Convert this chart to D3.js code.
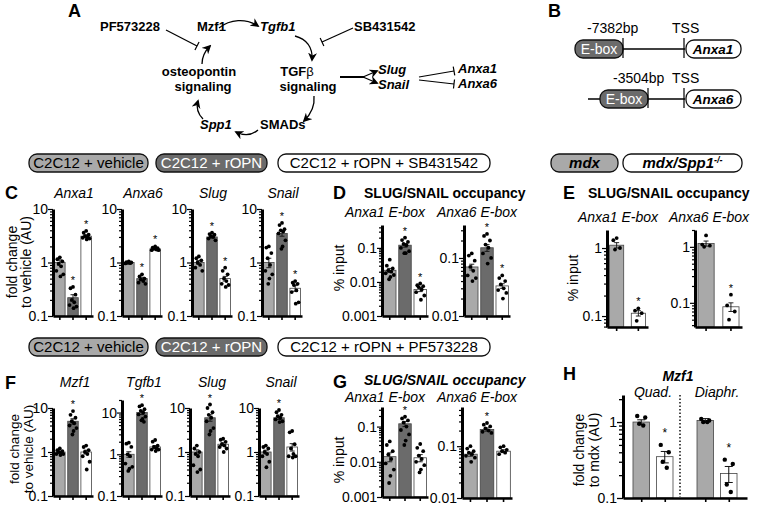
<!DOCTYPE html>
<html>
<head>
<meta charset="utf-8">
<script src="https://cdn.jsdelivr.net/npm/d3@7"></script>
<style>
body { margin: 0; background: #fff; }
svg { font-family: "Liberation Sans", Arial, sans-serif; }
</style>
</head>
<body>
<svg id="fig" width="760" height="512"></svg>
<script>
// ---------------- data ----------------
var conditionsC = ["C2C12 + vehicle", "C2C12 + rOPN", "C2C12 + rOPN + SB431542"];
var conditionsF = ["C2C12 + vehicle", "C2C12 + rOPN", "C2C12 + rOPN + PF573228"];
var genotypes = ["mdx", "mdx/Spp1"];
var genesC = ["Anxa1", "Anxa6", "Slug", "Snail"];
var genesF = ["Mzf1", "Tgfb1", "Slug", "Snail"];
var chipSites = ["Anxa1 E-box", "Anxa6 E-box"];
var musclesH = ["Quad.", "Diaphr."];

var ticksFold = [0.1, 1, 10];
var ticksD = [[0.001, 0.01, 0.1], [0.01, 0.1]];
var ticksE = [[0.1, 1], [0.1, 1]];
var ticksG = [[0.001, 0.01, 0.1], [0.01, 0.1]];
var ticksH = [0.1, 1];

// C: fold change, [vehicle, rOPN, rOPN+SB431542]
var meanC = [[1.0, 0.22, 3.1], [1.0, 0.5, 1.8], [1.0, 3.0, 0.5], [1.0, 3.5, 0.33]];
var semC = [[0.12, 0.03, 0.2], [0.02, 0.03, 0.05], [0.08, 0.15, 0.05], [0.2, 0.4, 0.04]];
var dotsC = [
  [[1.25, 1.15, 1.05, 0.95, 0.85, 0.7, 0.6, 0.55], [0.35, 0.33, 0.25, 0.2, 0.18, 0.16, 0.15, 0.14], [3.9, 3.6, 3.3, 3.1, 3.0, 2.9, 2.8, 2.7]],
  [[1.05, 1.02, 1.0, 0.98, 0.97, 0.96], [0.6, 0.55, 0.5, 0.48, 0.45, 0.42, 0.4], [2.0, 1.9, 1.85, 1.8, 1.75, 1.7, 1.7]],
  [[1.3, 1.2, 1.1, 1.0, 0.9, 0.8, 0.7], [3.6, 3.4, 3.3, 3.1, 3.0, 2.8, 2.6], [0.8, 0.7, 0.6, 0.5, 0.45, 0.4, 0.38, 0.35]],
  [[2.0, 1.9, 1.5, 1.2, 0.9, 0.7, 0.6, 0.5, 0.4], [5.5, 5.0, 4.2, 4.0, 3.8, 3.5, 2.6, 2.0, 1.8], [0.45, 0.42, 0.4, 0.38, 0.3, 0.28, 0.18, 0.17]]
];
var starsC = [[0, 1, 1], [0, 1, 1], [0, 1, 1], [0, 1, 1]];

// D: % input
var domainD = [[0.001, 0.47], [0.01, 0.37]];
var meanD = [[0.022, 0.12, 0.006], [0.07, 0.15, 0.033]];
var semD = [[0.003, 0.015, 0.0008], [0.008, 0.02, 0.003]];
var dotsD = [
  [[0.045, 0.03, 0.025, 0.022, 0.02, 0.018, 0.016, 0.014, 0.012], [0.2, 0.17, 0.15, 0.13, 0.12, 0.1, 0.08, 0.07, 0.07], [0.009, 0.008, 0.0075, 0.007, 0.006, 0.005, 0.004, 0.003]],
  [[0.12, 0.11, 0.09, 0.07, 0.06, 0.05, 0.045, 0.04], [0.26, 0.24, 0.2, 0.17, 0.15, 0.12, 0.1, 0.08], [0.05, 0.045, 0.04, 0.035, 0.03, 0.028, 0.025, 0.02]]
];
var starsD = [[0, 1, 1], [0, 1, 1]];

// E: % input, [mdx, mdx/Spp1-/-]
var domainE = [[0.069, 1.84], [0.037, 2.0]];
var meanE = [[1.1, 0.11], [1.15, 0.085]];
var semE = [[0.1, 0.01], [0.12, 0.015]];
var dotsE = [[[1.4, 1.3, 1.0, 0.95], [0.13, 0.12, 0.11, 0.085]], [[1.6, 1.1, 1.05, 1.0], [0.14, 0.09, 0.07, 0.05]]];
var starsE = [[0, 1], [0, 1]];

// F: fold change, [vehicle, rOPN, rOPN+PF573228]
var domainF = [[0.1, 10], [0.1, 20], [0.1, 10], [0.1, 10]];
var meanF = [[1.0, 5.0, 1.0], [1.0, 10.0, 1.5], [1.0, 6.0, 1.5], [1.0, 6.0, 1.3]];
var semF = [[0.04, 0.7, 0.1], [0.15, 1.0, 0.12], [0.12, 1.0, 0.12], [0.1, 0.5, 0.25]];
var dotsF = [
  [[1.2, 1.1, 1.05, 1.0, 0.95, 0.9, 0.9, 0.85], [8.5, 7.0, 6.0, 5.0, 4.5, 4.0, 3.5, 3.0, 2.5], [1.4, 1.3, 1.1, 1.0, 0.9, 0.8, 0.6, 0.4]],
  [[1.9, 1.8, 1.5, 1.0, 0.9, 0.6, 0.5, 0.45, 0.4], [15, 14, 12, 11, 10, 9, 8, 7, 6.5, 6], [2.2, 2.0, 1.6, 1.5, 1.4, 1.3, 1.3, 1.2]],
  [[1.4, 1.2, 1.0, 0.9, 0.8, 0.5, 0.4, 0.35], [12, 10, 8, 7, 6, 5, 3.5, 3, 2.5], [2.0, 1.9, 1.7, 1.5, 1.4, 1.3, 1.2, 1.0]],
  [[1.4, 1.3, 1.2, 1.0, 0.9, 0.8, 0.6, 0.45], [9, 8, 7, 6.5, 6, 5.5, 5, 4.8], [3.0, 2.8, 1.5, 1.2, 0.9, 0.8, 0.8, 0.75]]
];
var starsF = [[0, 1, 0], [0, 1, 0], [0, 1, 0], [0, 1, 0]];

// G: % input
var domainG = [[0.001, 0.36], [0.01, 0.57]];
var meanG = [[0.014, 0.12, 0.013], [0.07, 0.21, 0.08]];
var semG = [[0.004, 0.02, 0.003], [0.006, 0.015, 0.005]];
var dotsG = [
  [[0.038, 0.03, 0.02, 0.016, 0.012, 0.009, 0.006, 0.004, 0.0025], [0.19, 0.17, 0.15, 0.13, 0.1, 0.08, 0.06, 0.04, 0.03], [0.032, 0.025, 0.02, 0.015, 0.012, 0.01, 0.008, 0.006, 0.005]],
  [[0.1, 0.09, 0.08, 0.075, 0.07, 0.065, 0.06, 0.05], [0.28, 0.26, 0.24, 0.22, 0.2, 0.19, 0.18], [0.1, 0.095, 0.085, 0.08, 0.075, 0.07]]
];
var starsG = [[0, 1, 0], [0, 1, 0]];

// H: Mzf1 fold change to mdx, per muscle [mdx, mdx/Spp1-/-]
var meanH = [[1.0, 0.35], [1.05, 0.21]];
var semH = [[0.07, 0.06], [0.06, 0.05]];
var dotsH = [[[1.2, 1.15, 0.95, 0.9], [0.5, 0.4, 0.3, 0.25]], [[1.1, 1.05, 1.0, 1.0], [0.32, 0.28, 0.15, 0.12]]];
var starsH = [[0, 1], [0, 1]];

// ---------------- style ----------------
var LIGHT = "#a9a9a9", DARK = "#6b6b6b", WHITE = "#ffffff";
var fills3 = [LIGHT, DARK, WHITE];
var fills2 = [LIGHT, WHITE];
var JIT = [0, -2.6, 2.6, -1.3, 1.3, -3.6, 3.6, 0.6, -0.6, 2];

var svg = d3.select("#fig");

function label(x, y, txt, o) {
  o = o || {};
  return svg.append("text").attr("x", x).attr("y", y)
    .attr("text-anchor", o.anchor || "start")
    .style("font-size", (o.size || 13) + "px")
    .style("font-weight", o.bold ? "bold" : "normal")
    .style("font-style", o.italic ? "italic" : "normal")
    .attr("fill", o.fill || "#000")
    .text(txt);
}

function vlabel(x, y, txt, size) {
  svg.append("text").attr("transform", "translate(" + x + "," + y + ") rotate(-90)")
    .attr("text-anchor", "middle").style("font-size", (size || 14) + "px").text(txt);
}

function logTicks(dom) {
  var lo = Math.floor(Math.log10(dom[0])), hi = Math.ceil(Math.log10(dom[1]));
  var tv = [];
  for (var k = lo; k <= hi; k++) {
    for (var m = 1; m <= 9; m++) {
      var v = m * Math.pow(10, k);
      if (v >= dom[0] * 0.999 && v <= dom[1] * 1.001) tv.push(v);
    }
  }
  return tv;
}

function isMajor(v) { var l = Math.log10(v); return Math.abs(l - Math.round(l)) < 1e-6; }

// o: x (axis), w, top, bottom, domain, ticks, means, sems, dots, stars, fills, pin, pout
function barPlot(o) {
  var g = svg.append("g");
  var y = d3.scaleLog().domain(o.domain).range([o.bottom, o.top]);
  var x = d3.scaleBand().domain(d3.range(o.means.length))
    .range([o.x, o.x + o.w]).paddingInner(o.pin).paddingOuter(o.pout);

  var fmt = function (v) {
    var hit = o.ticks.find(function (t) { return Math.abs(t - v) / t < 1e-6; });
    return hit === undefined ? "" : String(hit);
  };

  // bars
  g.selectAll("rect.bar").data(o.means).join("rect")
    .attr("class", "bar")
    .attr("x", function (d, i) { return x(i); })
    .attr("width", x.bandwidth())
    .attr("y", function (d) { return y(d); })
    .attr("height", function (d) { return o.bottom - y(d); })
    .attr("fill", function (d, i) { return o.fills[i]; })
    .attr("stroke", "#444").attr("stroke-width", 0.8);

  // error bars
  o.means.forEach(function (m, i) {
    var cx = x(i) + x.bandwidth() / 2, s = o.sems[i];
    var y1 = y(m + s), y0 = y(Math.max(m - s, o.domain[0]));
    g.append("line").attr("x1", cx).attr("x2", cx).attr("y1", y1).attr("y2", y0)
      .attr("stroke", "#111").attr("stroke-width", 0.9);
    [y1, y0].forEach(function (yy) {
      g.append("line").attr("x1", cx - 2.5).attr("x2", cx + 2.5).attr("y1", yy).attr("y2", yy)
        .attr("stroke", "#111").attr("stroke-width", 0.9);
    });
  });

  // dots
  var pts = [];
  o.dots.forEach(function (arr, i) {
    arr.forEach(function (v, j) { pts.push({ i: i, j: j, v: v }); });
  });
  g.selectAll("circle").data(pts).join("circle")
    .attr("cx", function (d) { return x(d.i) + x.bandwidth() / 2 + JIT[d.j % JIT.length] * (x.bandwidth() / 11); })
    .attr("cy", function (d) { return y(d.v); })
    .attr("r", 1.9).attr("fill", "#000");

  // stars
  o.stars.forEach(function (s, i) {
    if (!s) return;
    var top = Math.max(d3.max(o.dots[i]), o.means[i] + o.sems[i]);
    g.append("text").attr("x", x(i) + x.bandwidth() / 2).attr("y", y(top) - 3)
      .attr("text-anchor", "middle").style("font-size", "11px").text("*");
  });

  // y axis
  var ay = g.append("g").attr("transform", "translate(" + o.x + ",0)")
    .call(d3.axisLeft(y).tickValues(logTicks(o.domain)).tickFormat(fmt).tickSizeOuter(0));
  ay.select(".domain").attr("stroke-width", 3);
  ay.selectAll(".tick line").attr("x2", function (d) { return isMajor(d) ? -5 : -3; }).attr("stroke-width", 1.2);
  ay.selectAll(".tick text").attr("x", -5).style("font-size", "14px")
    .style("font-family", "'Liberation Sans', Arial, sans-serif");

  // x axis
  var ax = g.append("g").attr("transform", "translate(0," + o.bottom + ")")
    .call(d3.axisBottom(x).tickFormat("").tickSize(4).tickSizeOuter(0));
  ax.select(".domain").attr("stroke-width", 2.6);
  ax.selectAll(".tick line").attr("stroke-width", 1.6);
  return { x: x, y: y };
}

function pill(x, y, w, txt, fill, o) {
  o = o || {};
  svg.append("rect").attr("x", x).attr("y", y).attr("width", w).attr("height", 18)
    .attr("rx", 8).attr("fill", fill).attr("stroke", "#111").attr("stroke-width", 1.3);
  var t = svg.append("text").attr("x", x + w / 2).attr("y", y + 14).attr("text-anchor", "middle")
    .style("font-size", "15px").attr("fill", o.color || "#000")
    .style("font-weight", o.bold ? "bold" : "normal").style("font-style", o.italic ? "italic" : "normal");
  t.append("tspan").text(txt);
  if (o.sup) t.append("tspan").attr("dy", -5).style("font-size", "9px").text(o.sup);
}

// ---------------- panel A : pathway ----------------
var defs = svg.append("defs");
defs.append("marker").attr("id", "arr").attr("viewBox", "0 0 10 10").attr("refX", 8).attr("refY", 5)
  .attr("markerWidth", 9).attr("markerHeight", 9).attr("markerUnits", "userSpaceOnUse").attr("orient", "auto")
  .append("path").attr("d", "M0,0 L10,5 L0,10 L3,5 z").attr("fill", "#000");

label(68, 17, "A", { size: 18, bold: true });
label(100, 31, "PF573228", { bold: true });
label(197, 31, "Mzf1", { bold: true });
label(260, 31, "Tgfb1", { bold: true, italic: true });
label(354, 31, "SB431542", { bold: true });
label(199, 76, "osteopontin", { bold: true, anchor: "middle" });
label(203, 91, "signaling", { bold: true, anchor: "middle" });
var tgfb = label(297, 76, "TGF", { bold: true, anchor: "middle" });
tgfb.append("tspan").style("font-weight", "normal").text("β");
label(308, 91, "signaling", { bold: true, anchor: "middle" });
label(200, 129, "Spp1", { bold: true, italic: true });
label(260, 129, "SMADs", { bold: true });
label(378, 74, "Slug", { bold: true, italic: true });
label(378, 89, "Snail", { bold: true, italic: true });
label(458, 73, "Anxa1", { bold: true, italic: true });
label(458, 88, "Anxa6", { bold: true, italic: true });

var arrows = [
  "M219,28 C230,19 246,18 258,26",
  "M295,36 C306,39 313,47 312,60",
  "M314,96 C315,106 311,114 304,121",
  "M258,130 C251,136 244,136 236,132",
  "M203,119 C198,114 196,108 198,101",
  "M202,64 C202,57 205,51 210,46"
];
arrows.forEach(function (d) {
  svg.append("path").attr("d", d).attr("fill", "none").attr("stroke", "#000")
    .attr("stroke-width", 1.3).attr("marker-end", "url(#arr)");
});

function inhibit(x1, y1, x2, y2) {
  svg.append("line").attr("x1", x1).attr("y1", y1).attr("x2", x2).attr("y2", y2)
    .attr("stroke", "#000").attr("stroke-width", 1.2);
  var a = Math.atan2(y2 - y1, x2 - x1), L = 4.5;
  svg.append("line").attr("x1", x2 - L * Math.sin(a)).attr("y1", y2 + L * Math.cos(a))
    .attr("x2", x2 + L * Math.sin(a)).attr("y2", y2 - L * Math.cos(a))
    .attr("stroke", "#000").attr("stroke-width", 1.2);
}
inhibit(166, 30, 197, 46);
inhibit(353, 28, 322, 42);
inhibit(419, 77, 454, 71);
inhibit(419, 80, 454, 84);

svg.append("line").attr("x1", 340).attr("y1", 77).attr("x2", 364).attr("y2", 77)
  .attr("stroke", "#000").attr("stroke-width", 2);
[[377, 71], [377, 83]].forEach(function (p) {
  svg.append("path").attr("d", "M363,77 L" + p[0] + "," + p[1]).attr("stroke", "#000")
    .attr("stroke-width", 1.3).attr("fill", "none").attr("marker-end", "url(#arr)");
});

// ---------------- panel B : promoters ----------------
label(548, 17, "B", { size: 18, bold: true });
function promoter(yc, lineX0, boxX, boxW, tick1, pos, posX, gene) {
  svg.append("line").attr("x1", lineX0).attr("x2", 685).attr("y1", yc).attr("y2", yc)
    .attr("stroke", "#000").attr("stroke-width", 1.3);
  svg.append("rect").attr("x", boxX).attr("y", yc - 9).attr("width", boxW).attr("height", 18)
    .attr("rx", 8).attr("fill", "#6b6b6b").attr("stroke", "#111").attr("stroke-width", 1.3);
  label(boxX + boxW / 2, yc + 5, "E-box", { size: 14, anchor: "middle", fill: "#fff" });
  [tick1, 684].forEach(function (tx) {
    svg.append("line").attr("x1", tx).attr("x2", tx).attr("y1", yc - 11).attr("y2", yc + 9)
      .attr("stroke", "#000").attr("stroke-width", 1.2);
  });
  svg.append("rect").attr("x", 686).attr("y", yc - 9).attr("width", 55).attr("height", 18)
    .attr("rx", 8).attr("fill", "#fff").attr("stroke", "#111").attr("stroke-width", 1.3);
  label(713, yc + 5, gene, { size: 13.5, bold: true, italic: true, anchor: "middle" });
  label(posX, yc - 16, pos, { size: 14 });
  label(672, yc - 16, "TSS", { size: 14 });
}
promoter(49, 622, 575, 48, 623, "-7382bp", 587, "Anxa1");
promoter(99, 588, 600, 48, 648, "-3504bp", 613, "Anxa6");

// ---------------- legends ----------------
pill(29, 154, 119, conditionsC[0], LIGHT);
pill(156, 154, 111, conditionsC[1], DARK, { color: "#fff" });
pill(278, 154, 212, conditionsC[2], WHITE);
pill(551, 154, 67, genotypes[0], LIGHT, { bold: true, italic: true });
pill(623, 154, 119, genotypes[1], WHITE, { bold: true, italic: true, sup: "-/-" });

pill(29, 338, 119, conditionsF[0], LIGHT);
pill(156, 338, 111, conditionsF[1], DARK, { color: "#fff" });
pill(278, 338, 212, conditionsF[2], WHITE);

// ---------------- panel C ----------------
label(5, 199, "C", { size: 18, bold: true });
vlabel(17, 262, "fold change");
vlabel(31, 262, "to vehicle (AU)");
var axC = [53, 122, 192, 262];
genesC.forEach(function (gname, k) {
  label(axC[k] + 21, 198, gname, { size: 14, italic: true, anchor: "middle" });
  barPlot({ x: axC[k], w: 40, top: 209, bottom: 316, domain: [0.1, 10], ticks: ticksFold,
    means: meanC[k], sems: semC[k], dots: dotsC[k], stars: starsC[k], fills: fills3, pin: 0.2, pout: 0.12 });
});

// ---------------- panel D ----------------
label(333, 199, "D", { size: 18, bold: true });
label(364, 198, "SLUG/SNAIL occupancy", { size: 14, bold: true });
vlabel(344, 268, "% input");
var axD = [382, 464];
chipSites.forEach(function (s, k) {
  label([385, 477][k], 217, s, { size: 14, italic: true, anchor: "middle" });
  barPlot({ x: axD[k], w: 46, top: 225, bottom: 316, domain: domainD[k], ticks: ticksD[k],
    means: meanD[k], sems: semD[k], dots: dotsD[k], stars: starsD[k], fills: fills3, pin: 0.18, pout: 0.1 });
});

// ---------------- panel E ----------------
label(563, 199, "E", { size: 18, bold: true });
label(588, 198, "SLUG/SNAIL occupancy", { size: 14, bold: true });
vlabel(578, 278, "% input");
var axE = [607, 695];
chipSites.forEach(function (s, k) {
  label([618, 709][k], 222, s, { size: 14, italic: true, anchor: "middle" });
  barPlot({ x: axE[k], w: [41, 47][k], top: 230, bottom: 327, domain: domainE[k], ticks: ticksE[k],
    means: meanE[k], sems: semE[k], dots: dotsE[k], stars: starsE[k], fills: fills2, pin: 0.35, pout: 0.12 });
});

// ---------------- panel F ----------------
label(5, 389, "F", { size: 18, bold: true });
vlabel(19, 449, "fold change", 13.5);
vlabel(33, 449, "to vehicle (AU)", 13.5);
var axF = [53, 122, 190, 259];
genesF.forEach(function (gname, k) {
  label(axF[k] + 22, 387, gname, { size: 14, italic: true, anchor: "middle" });
  barPlot({ x: axF[k], w: 40, top: domainF[k][1] > 10 ? 400 : 408, bottom: 496, domain: domainF[k], ticks: ticksFold,
    means: meanF[k], sems: semF[k], dots: dotsF[k], stars: starsF[k], fills: fills3, pin: 0.2, pout: 0.12 });
});

// ---------------- panel G ----------------
label(333, 388, "G", { size: 18, bold: true });
label(364, 385, "SLUG/SNAIL occupancy", { size: 14, bold: true, italic: true });
vlabel(344, 460, "% input");
var axG = [382, 462];
chipSites.forEach(function (s, k) {
  label([385, 477][k], 402, s, { size: 14, italic: true, anchor: "middle" });
  barPlot({ x: axG[k], w: [46, 50][k], top: 407, bottom: [497, 498][k], domain: domainG[k], ticks: ticksG[k],
    means: meanG[k], sems: semG[k], dots: dotsG[k], stars: starsG[k], fills: fills3, pin: 0.18, pout: 0.1 });
});

// ---------------- panel H ----------------
label(563, 380, "H", { size: 18, bold: true });
label(678, 381, "Mzf1", { size: 14, bold: true, italic: true, anchor: "middle" });
vlabel(584, 450, "fold change");
vlabel(599, 450, "to mdx (AU)");
var yH = d3.scaleLog().domain([0.1, 2.27]).range([498, 395]);
var outerH = d3.scaleBand().domain(musclesH).range([623, 747]).paddingInner(0.375).paddingOuter(0.156);
musclesH.forEach(function (m, k) {
  label(outerH(m) + outerH.bandwidth() / 2, 397, m, { size: 14, italic: true, anchor: "middle" });
});
(function () {
  var g = svg.append("g");
  var inner = d3.scaleBand().domain([0, 1]).range([0, outerH.bandwidth()]).paddingInner(0.3).paddingOuter(0);
  var pts = [];
  musclesH.forEach(function (m, k) {
    meanH[k].forEach(function (v, i) {
      var x0 = outerH(m) + inner(i), cx = x0 + inner.bandwidth() / 2;
      g.append("rect").attr("x", x0).attr("width", inner.bandwidth()).attr("y", yH(v))
        .attr("height", 498 - yH(v)).attr("fill", fills2[i]).attr("stroke", "#444").attr("stroke-width", 0.8);
      var s = semH[k][i];
      var y1 = yH(v + s), y0 = yH(v - s);
      g.append("line").attr("x1", cx).attr("x2", cx).attr("y1", y1).attr("y2", y0).attr("stroke", "#111");
      [y1, y0].forEach(function (yy) {
        g.append("line").attr("x1", cx - 4).attr("x2", cx + 4).attr("y1", yy).attr("y2", yy).attr("stroke", "#111");
      });
      dotsH[k][i].forEach(function (d, j) { pts.push({ cx: cx + [-4, 4, -2, 2][j % 4], v: d }); });
      if (starsH[k][i]) {
        g.append("text").attr("x", cx).attr("y", yH(d3.max(dotsH[k][i])) - 8).attr("text-anchor", "middle")
          .style("font-size", "12px").text("*");
      }
    });
  });
  g.selectAll("circle").data(pts).join("circle").attr("cx", function (d) { return d.cx; })
    .attr("cy", function (d) { return yH(d.v); }).attr("r", 2.2).attr("fill", "#000");
  g.append("line").attr("x1", 680).attr("x2", 680).attr("y1", 395).attr("y2", 497)
    .attr("stroke", "#000").attr("stroke-width", 1.4).attr("stroke-dasharray", "1.5,2");
  var ay = g.append("g").attr("transform", "translate(623,0)")
    .call(d3.axisLeft(yH).tickValues(logTicks([0.1, 2.27])).tickFormat(function (v) {
      var hit = ticksH.find(function (t) { return Math.abs(t - v) / t < 1e-6; });
      return hit === undefined ? "" : String(hit);
    }).tickSizeOuter(0));
  ay.select(".domain").attr("stroke-width", 3);
  ay.selectAll(".tick line").attr("x2", function (d) { return isMajor(d) ? -6 : -4; }).attr("stroke-width", 1.3);
  ay.selectAll(".tick text").attr("x", -6).style("font-size", "14px")
    .style("font-family", "'Liberation Sans', Arial, sans-serif");
  var xs = [];
  musclesH.forEach(function (m) { [0, 1].forEach(function (i) { xs.push(outerH(m) + inner(i) + inner.bandwidth() / 2); }); });
  var xl = d3.scaleLinear().domain([623, 747]).range([623, 747]);
  var ax = g.append("g").attr("transform", "translate(0,498)")
    .call(d3.axisBottom(xl).tickValues(xs).tickFormat("").tickSize(4).tickSizeOuter(0));
  ax.select(".domain").attr("stroke-width", 2.6);
  ax.selectAll(".tick line").attr("stroke-width", 1.6);
})();
</script>
</body>
</html>
